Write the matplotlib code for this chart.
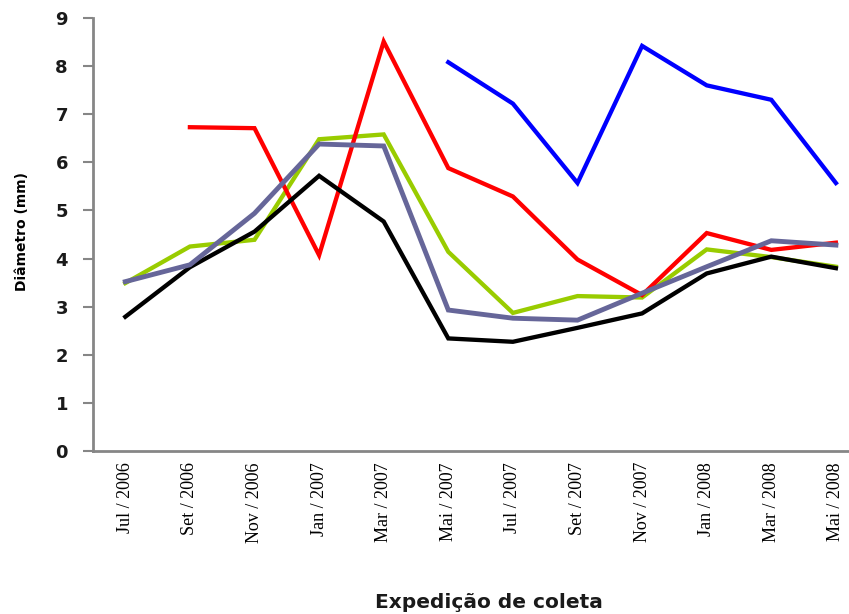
import matplotlib
matplotlib.use("Agg")
import matplotlib.pyplot as plt
import numpy as np

categories = ["Jul / 2006", "Set / 2006", "Nov / 2006", "Jan / 2007", "Mar / 2007", "Mai / 2007",
              "Jul / 2007", "Set / 2007", "Nov / 2007", "Jan / 2008", "Mar / 2008", "Mai / 2008"]
nan = np.nan
blue = [nan, nan, nan, nan, nan, 8.08, 7.22, 5.57, 8.42, 7.60, 7.30, 5.57]
red = [nan, 6.73, 6.71, 4.07, 8.51, 5.88, 5.29, 3.98, 3.24, 4.53, 4.18, 4.33]
green = [3.49, 4.25, 4.39, 6.48, 6.58, 4.14, 2.87, 3.22, 3.19, 4.19, 4.03, 3.83]
black = [2.79, 3.82, 4.56, 5.72, 4.77, 2.34, 2.27, 2.56, 2.86, 3.69, 4.04, 3.80]
purple = [3.52, 3.87, 4.94, 6.38, 6.34, 2.93, 2.76, 2.72, 3.28, 3.83, 4.37, 4.28]
yticks = list(range(0, 10))

fig = plt.figure(figsize=(8.49, 6.14), dpi=100)
ax = fig.add_axes([93/849, 1-451/614, (849-93)/849, (451-18)/614])
x = np.arange(len(categories))
lw = 3.1
ax.plot(x, blue, color="#0000FF", lw=lw, solid_joinstyle="miter")
ax.plot(x, green, color="#99CC00", lw=lw, solid_joinstyle="miter")
ax.plot(x, red, color="#FF0000", lw=lw, solid_joinstyle="miter")
ax.plot(x, black, color="#000000", lw=lw, solid_joinstyle="miter")
ax.plot(x, purple, color="#666699", lw=3.5, solid_joinstyle="miter")

span = (849 - 93) / 64.6
ax.set_xlim(-0.5, -0.5 + span)
ax.set_ylim(0, 9)
ax.set_yticks(yticks)
ax.set_yticklabels([str(v) for v in yticks], fontsize=13, color="#1a1a1a",
                   fontfamily="DejaVu Sans", fontweight="bold")
ax.set_xticks(x)
ax.set_xticklabels(categories, rotation=90, fontsize=13, fontfamily="Liberation Serif")
ax.tick_params(axis="x", length=0, pad=8)
ax.tick_params(axis="y", length=7, width=1.5, color="#868686", pad=11, direction="out")
for s in ["top", "right"]:
    ax.spines[s].set_visible(False)
for s in ["left", "bottom"]:
    ax.spines[s].set_color("#868686")
    ax.spines[s].set_linewidth(2)

fig.text(22/849, 1-232/614, "Diâmetro (mm)", rotation=90, ha="center", va="center",
         fontsize=10, fontweight="bold")
fig.text(489/849, 1-602/614, "Expedição de coleta", ha="center", va="center",
         fontsize=14.5, fontweight="bold", color="#1a1a1a")

fig.savefig("out.png", dpi=100)
